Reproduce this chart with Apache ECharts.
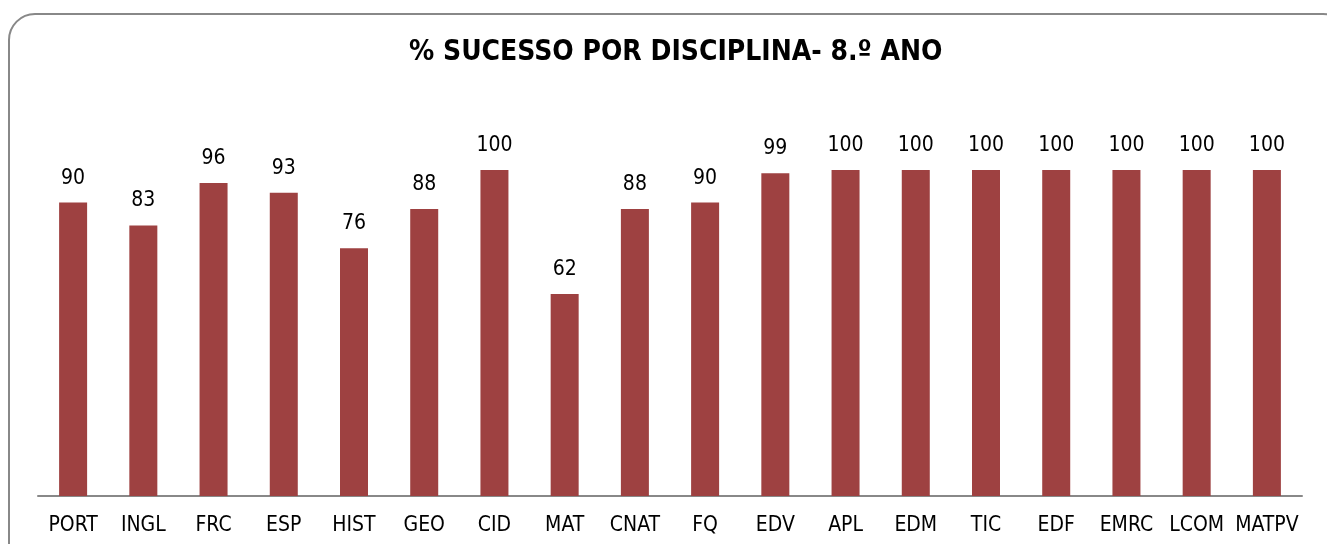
<!DOCTYPE html>
<html>
<head>
    <meta http-equiv="Content-Type" content="text/html; charset=utf-8" />
    <title>% SUCESSO POR DISCIPLINA- 8.º ANO</title>
    <style>
        html, body { margin: 0; padding: 0; background: #fff; }
        #main { width: 1327px; height: 544px; }
    </style>
</head>
<body>
    <div id="main"></div>
    <script src="https://cdn.jsdelivr.net/npm/echarts@6/dist/echarts.min.js"></script>
    <script type="text/javascript">
        var disciplinas = ['PORT', 'INGL', 'FRC', 'ESP', 'HIST', 'GEO', 'CID', 'MAT', 'CNAT', 'FQ',
                           'EDV', 'APL', 'EDM', 'TIC', 'EDF', 'EMRC', 'LCOM', 'MATPV'];
        var sucesso = [90, 83, 96, 93, 76, 88, 100, 62, 88, 90, 99, 100, 100, 100, 100, 100, 100, 100];

        var fonte = '"DejaVu Sans Condensed", "DejaVu Sans", sans-serif';

        var myChart = echarts.init(document.getElementById('main'));

        var option = {
            animation: false,
            backgroundColor: '#fff',
            title: {
                text: '% SUCESSO POR DISCIPLINA- 8.º ANO',
                left: 404,
                top: 34,
                textStyle: {
                    fontFamily: fonte,
                    fontSize: 28,
                    fontWeight: 'bold',
                    color: '#000'
                }
            },
            graphic: [{
                type: 'rect',
                shape: { x: 9, y: 14, width: 1340, height: 580, r: 26 },
                style: { fill: 'none', stroke: '#888', lineWidth: 2 },
                silent: true
            }],
            grid: {
                left: 38,
                right: 25,
                top: 170,
                bottom: 48
            },
            xAxis: {
                type: 'category',
                data: disciplinas,
                axisLine: { lineStyle: { color: '#888', width: 2 } },
                axisTick: { show: false },
                axisLabel: {
                    interval: 0,
                    margin: 19,
                    fontFamily: fonte,
                    fontSize: 21,
                    color: '#000'
                }
            },
            yAxis: {
                type: 'value',
                min: 0,
                max: 100,
                show: false,
                splitLine: { show: false }
            },
            series: [{
                type: 'bar',
                data: sucesso,
                barWidth: 28,
                itemStyle: { color: '#9e4141' },
                label: {
                    show: true,
                    position: 'top',
                    distance: 14,
                    fontFamily: fonte,
                    fontSize: 21,
                    color: '#000'
                }
            }]
        };

        myChart.setOption(option);
    </script>
</body>
</html>
